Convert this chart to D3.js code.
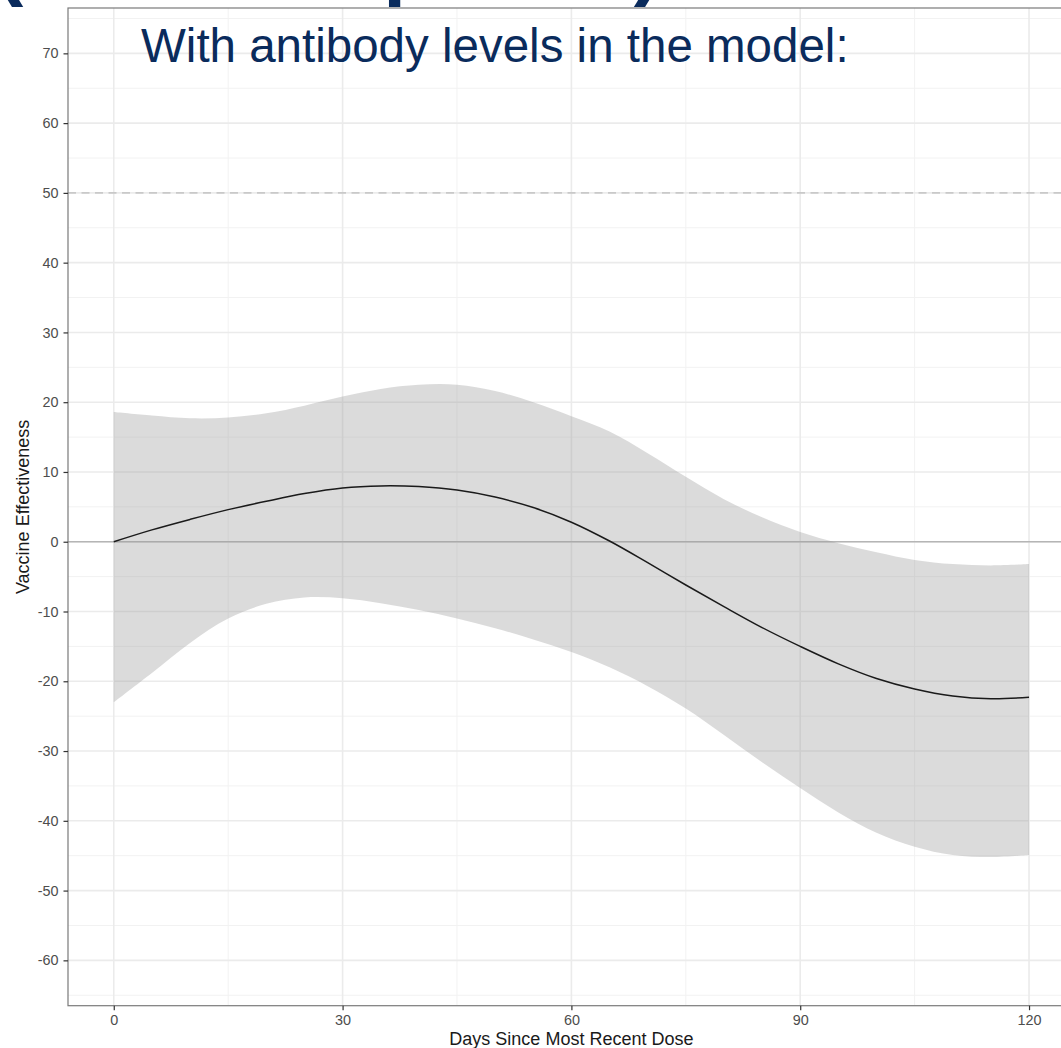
<!DOCTYPE html>
<html>
<head>
<meta charset="utf-8">
<script src="https://cdn.jsdelivr.net/npm/d3@7"></script>
<style>
  html, body { margin: 0; padding: 0; background: #fff; }
  svg { display: block; }
</style>
</head>
<body>
<div id="chart"></div>
<script>
// ---- data ----
const days      = [0, 5, 10, 15, 20, 25, 30, 35, 40, 45, 50, 55, 60, 65, 70, 75, 80, 85, 90, 95, 100, 105, 110, 115, 120];
const estimate  = [0, 1.7, 3.2, 4.6, 5.8, 6.9, 7.7, 8.0, 7.9, 7.4, 6.4, 4.9, 2.8, 0.1, -3.0, -6.2, -9.3, -12.3, -15.0, -17.5, -19.6, -21.1, -22.1, -22.5, -22.3];
const upperCI   = [18.6, 18.1, 17.7, 17.8, 18.4, 19.5, 20.8, 21.9, 22.5, 22.5, 21.6, 20.0, 18.0, 15.8, 12.7, 9.3, 6.1, 3.5, 1.4, -0.2, -1.5, -2.6, -3.2, -3.4, -3.2];
const lowerCI   = [-23.0, -18.8, -14.5, -11.0, -8.9, -8.0, -8.1, -8.8, -9.8, -11.0, -12.4, -14.0, -15.8, -18.0, -20.7, -23.9, -27.7, -31.6, -35.3, -38.8, -41.7, -43.7, -44.9, -45.2, -44.9];
const xTicks    = [0, 30, 60, 90, 120];
const xMinor    = [15, 45, 75, 105];
const yTicks    = [-60, -50, -40, -30, -20, -10, 0, 10, 20, 30, 40, 50, 60, 70];
const yMinor    = [-65, -55, -45, -35, -25, -15, -5, 5, 15, 25, 35, 45, 55, 65, 75];
const refDashed = 50;
const refSolid  = 0;
const headingText  = "(Omicron period)";
const subtitleText = "With antibody levels in the model:";
const xTitle = "Days Since Most Recent Dose";
const yTitle = "Vaccine Effectiveness";

const rows = days.map((d, i) => ({ d, est: estimate[i], lo: lowerCI[i], hi: upperCI[i] }));

// ---- layout ----
const W = 1061, H = 1048;
const panel = { left: 68, top: 8, right: 1074.8, bottom: 1005.7 };

const svg = d3.select("#chart").append("svg")
  .attr("width", W).attr("height", H)
  .style("font-family", "'Liberation Sans', Arial, Helvetica, sans-serif");

const x = d3.scaleLinear().domain([-6, 126]).range([panel.left, panel.right]);
const y = d3.scaleLinear().domain([-66.5, 76.5]).range([panel.bottom, panel.top]);

// cut-off heading (only the descenders remain visible above the panel)
svg.append("clipPath").attr("id", "headclip")
  .append("rect").attr("x", 0).attr("y", -200).attr("width", W).attr("height", 208);
svg.append("text")
  .attr("clip-path", "url(#headclip)")
  .attr("x", -4).attr("y", -10)
  .attr("font-size", 82).attr("font-weight", "bold")
  .attr("fill", "#0a2b5c")
  .text(headingText);

// panel background
svg.append("rect")
  .attr("x", panel.left).attr("y", panel.top)
  .attr("width", panel.right - panel.left).attr("height", panel.bottom - panel.top)
  .attr("fill", "#fff");

const grid = svg.append("g");
// minor grid
grid.selectAll(".ymin").data(yMinor).join("line")
  .attr("x1", panel.left).attr("x2", panel.right)
  .attr("y1", d => y(d)).attr("y2", d => y(d))
  .attr("stroke", "#f2f2f2").attr("stroke-width", 1);
grid.selectAll(".xmin").data(xMinor).join("line")
  .attr("y1", panel.top).attr("y2", panel.bottom)
  .attr("x1", d => x(d)).attr("x2", d => x(d))
  .attr("stroke", "#f2f2f2").attr("stroke-width", 1);
// major grid
grid.selectAll(".ymaj").data(yTicks).join("line")
  .attr("x1", panel.left).attr("x2", panel.right)
  .attr("y1", d => y(d)).attr("y2", d => y(d))
  .attr("stroke", "#ebebeb").attr("stroke-width", 1.6);
grid.selectAll(".xmaj").data(xTicks).join("line")
  .attr("y1", panel.top).attr("y2", panel.bottom)
  .attr("x1", d => x(d)).attr("x2", d => x(d))
  .attr("stroke", "#ebebeb").attr("stroke-width", 1.6);

// reference lines
svg.append("line")
  .attr("x1", panel.left).attr("x2", panel.right)
  .attr("y1", y(refDashed)).attr("y2", y(refDashed))
  .attr("stroke", "#c9c9c9").attr("stroke-width", 1.6)
  .attr("stroke-dasharray", "8,5.5");
svg.append("line")
  .attr("x1", panel.left).attr("x2", panel.right)
  .attr("y1", y(refSolid)).attr("y2", y(refSolid))
  .attr("stroke", "#b5b5b5").attr("stroke-width", 1.6);

// ribbon
const area = d3.area()
  .x(d => x(d.d)).y0(d => y(d.lo)).y1(d => y(d.hi))
  .curve(d3.curveCatmullRom.alpha(0.5));
svg.append("path").datum(rows)
  .attr("d", area)
  .attr("fill", "#999").attr("fill-opacity", 0.35);

// estimate line
const line = d3.line().x(d => x(d.d)).y(d => y(d.est)).curve(d3.curveCatmullRom.alpha(0.5));
svg.append("path").datum(rows)
  .attr("d", line)
  .attr("fill", "none").attr("stroke", "#1a1a1a").attr("stroke-width", 1.5);

// panel border
svg.append("rect")
  .attr("x", panel.left).attr("y", panel.top)
  .attr("width", panel.right - panel.left).attr("height", panel.bottom - panel.top)
  .attr("fill", "none").attr("stroke", "#7a7a7a").attr("stroke-width", 1.2);

// axes
const fmt = d => String(d);
const yAxis = d3.axisLeft(y).tickValues(yTicks).tickSize(4.5).tickPadding(5).tickFormat(fmt);
const gy = svg.append("g").attr("transform", `translate(${panel.left},0)`).call(yAxis);
gy.select(".domain").remove();
gy.selectAll(".tick line").attr("stroke", "#333").attr("stroke-width", 1.2);
gy.selectAll(".tick text").attr("fill", "#4d4d4d").attr("font-size", 14.4)
  .style("font-family", "'Liberation Sans', Arial, sans-serif");

const xAxis = d3.axisBottom(x).tickValues(xTicks).tickSize(4.5).tickPadding(5).tickFormat(fmt);
const gx = svg.append("g").attr("transform", `translate(0,${panel.bottom})`).call(xAxis);
gx.select(".domain").remove();
gx.selectAll(".tick line").attr("stroke", "#333").attr("stroke-width", 1.2);
gx.selectAll(".tick text").attr("fill", "#4d4d4d").attr("font-size", 14.4)
  .style("font-family", "'Liberation Sans', Arial, sans-serif");

// axis titles
svg.append("text")
  .attr("x", x(60)).attr("y", 1045)
  .attr("text-anchor", "middle").attr("font-size", 18).attr("fill", "#1a1a1a")
  .text(xTitle);
svg.append("text")
  .attr("transform", `translate(29,${(panel.top + panel.bottom) / 2}) rotate(-90)`)
  .attr("text-anchor", "middle").attr("font-size", 18).attr("fill", "#1a1a1a")
  .text(yTitle);

// subtitle overlay
svg.append("text")
  .attr("x", 141).attr("y", 62)
  .attr("font-size", 47.5).attr("fill", "#0a2b5c")
  .text(subtitleText);
</script>
</body>
</html>
